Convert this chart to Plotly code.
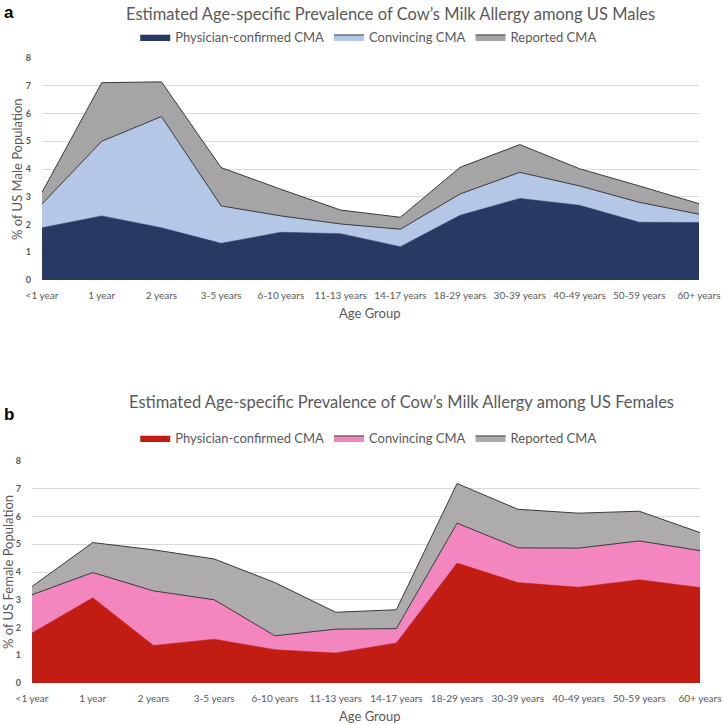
import plotly.graph_objects as go

age_groups = ["<1 year", "1 year", "2 years", "3-5 years", "6-10 years", "11-13 years",
              "14-17 years", "18-29 years", "30-39 years", "40-49 years", "50-59 years", "60+ years"]

# Males (% of US male population)
male_physician = [1.88, 2.31, 1.88, 1.32, 1.72, 1.67, 1.20, 2.33, 2.94, 2.69, 2.08, 2.07]
male_convincing = [2.74, 5.00, 5.89, 2.67, 2.31, 2.02, 1.83, 3.10, 3.88, 3.39, 2.80, 2.37]
male_reported = [3.16, 7.11, 7.14, 4.05, 3.27, 2.52, 2.26, 4.06, 4.88, 4.01, 3.39, 2.75]

# Females (% of US female population)
female_physician = [1.80, 3.07, 1.35, 1.58, 1.20, 1.08, 1.44, 4.32, 3.62, 3.45, 3.72, 3.44]
female_convincing = [3.18, 3.98, 3.32, 3.00, 1.70, 1.94, 1.96, 5.76, 4.87, 4.86, 5.12, 4.77]
female_reported = [3.48, 5.06, 4.80, 4.47, 3.62, 2.55, 2.64, 7.19, 6.26, 6.12, 6.19, 5.42]

series_names = ["Physician-confirmed CMA", "Convincing CMA", "Reported CMA"]
y_ticks = [0, 1, 2, 3, 4, 5, 6, 7, 8]

W, H = 723, 725
GRAY_TXT = "#595959"
FONT = "Lato"

fig = go.Figure()

def add_set(vals, colors, outlines, xa, ya, leg):
    # draw back to front: reported, convincing, physician
    for i in [2, 1, 0]:
        fig.add_trace(go.Scatter(
            x=age_groups, y=vals[i], name=series_names[i], mode="lines",
            fill="tozeroy", fillcolor=colors[i],
            line=dict(color=outlines[i], width=1 if outlines[i] != colors[i] else 0.5),
            xaxis=xa, yaxis=ya, legend=leg, legendrank=i + 1,
            hoverinfo="x+y+name",
        ))

add_set([male_physician, male_convincing, male_reported],
        ["#283a63", "#b4c7e7", "#a5a5a5"],
        ["#283a63", "#3a3a3a", "#3a3a3a"], "x", "y", "legend")
add_set([female_physician, female_convincing, female_reported],
        ["#c21d13", "#f386bf", "#adabab"],
        ["#c21d13", "#3a3a3a", "#3a3a3a"], "x2", "y2", "legend2")

def px_x(p):
    return p / W

def px_y(p):
    return 1 - p / H

axis_common = dict(showline=False, zeroline=False, ticks="", fixedrange=True, automargin=False)
xtick = dict(size=10, color=GRAY_TXT)
ytick = dict(size=9, color=GRAY_TXT, weight="bold")

fig.update_layout(
    width=W, height=H,
    margin=dict(l=0, r=0, t=0, b=0),
    paper_bgcolor="white", plot_bgcolor="white",
    font=dict(family=FONT, color=GRAY_TXT),
    xaxis=dict(domain=[px_x(42), px_x(699)], anchor="y", type="category", range=[0, 11],
               showgrid=False, tickfont=xtick, tickangle=0, ticklabelstandoff=8, **axis_common),
    yaxis=dict(domain=[px_y(280), px_y(58)], anchor="x", range=[0, 8], tickvals=y_ticks,
               showgrid=True, gridcolor="#d9d9d9", gridwidth=1, ticklabelstandoff=10,
               tickfont=ytick, **axis_common),
    xaxis2=dict(domain=[px_x(32), px_x(700)], anchor="y2", type="category", range=[0, 11],
                showgrid=False, tickfont=xtick, tickangle=0, ticklabelstandoff=8, **axis_common),
    yaxis2=dict(domain=[px_y(683), px_y(461)], anchor="x2", range=[0, 8], tickvals=y_ticks,
                showgrid=True, gridcolor="#d9d9d9", gridwidth=1, ticklabelstandoff=10,
                tickfont=ytick, **axis_common),
    legend=dict(orientation="h", x=0.51, xanchor="center", y=px_y(37), yanchor="middle",
                font=dict(size=13, color=GRAY_TXT), traceorder="normal",
                itemwidth=30, bgcolor="rgba(0,0,0,0)"),
    legend2=dict(orientation="h", x=0.51, xanchor="center", y=px_y(438), yanchor="middle",
                 font=dict(size=13, color=GRAY_TXT), traceorder="normal",
                 itemwidth=30, bgcolor="rgba(0,0,0,0)"),
    showlegend=True,
)

annotations = [
    dict(text="Estimated Age-specific Prevalence of Cow’s Milk Allergy among US Males",
         x=px_x(390), y=px_y(14), font=dict(size=16.5, color=GRAY_TXT)),
    dict(text="Estimated Age-specific Prevalence of Cow’s Milk Allergy among US Females",
         x=px_x(401), y=px_y(402), font=dict(size=16.5, color=GRAY_TXT)),
    dict(text="<b>a</b>", x=px_x(9), y=px_y(12), font=dict(size=17, color="black", family="Liberation Sans")),
    dict(text="<b>b</b>", x=px_x(9), y=px_y(414), font=dict(size=17, color="black", family="Liberation Sans")),
    dict(text="% of US Male Population", x=px_x(17), y=px_y(169), textangle=-90,
         font=dict(size=13, color=GRAY_TXT)),
    dict(text="% of US Female Population", x=px_x(8), y=px_y(572), textangle=-90,
         font=dict(size=13, color=GRAY_TXT)),
    dict(text="Age Group", x=px_x(370), y=px_y(313), font=dict(size=13, color=GRAY_TXT)),
    dict(text="Age Group", x=px_x(370), y=px_y(716), font=dict(size=13, color=GRAY_TXT)),
]
for a in annotations:
    a.update(xref="paper", yref="paper", showarrow=False, xanchor="center", yanchor="middle")
fig.update_layout(annotations=annotations)

fig.write_html("out.html", config={"displayModeBar": False},
               post_script="document.body.style.margin='0';document.body.style.overflow='hidden';")
